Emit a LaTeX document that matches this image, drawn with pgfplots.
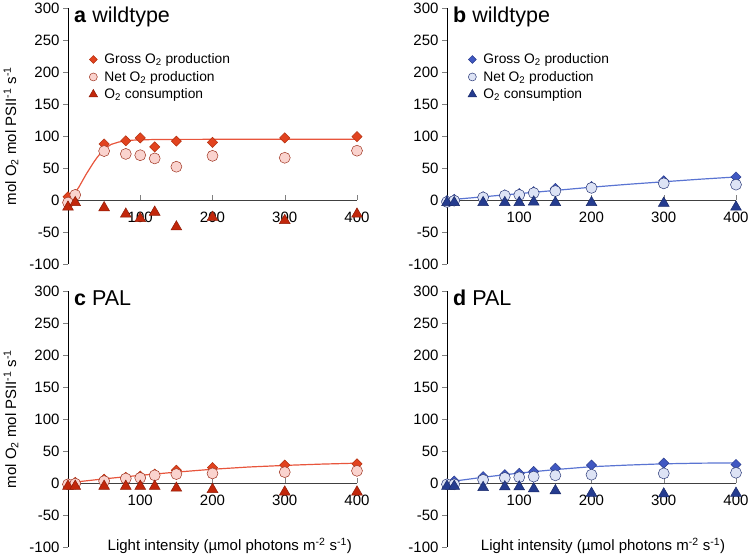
\documentclass[border=0pt]{standalone}
\usepackage{fontspec}
\setmainfont{Liberation Sans}
\usepackage{pgfplots}
\pgfplotsset{compat=1.18}

\definecolor{rline}{HTML}{E8553C}
\definecolor{rdia}{HTML}{E2431F}
\definecolor{rdiae}{HTML}{B3300F}
\definecolor{rcir}{HTML}{FAD3CE}
\definecolor{rcire}{HTML}{9E3320}
\definecolor{rtri}{HTML}{C2270B}
\definecolor{rtrie}{HTML}{8E1B06}
\definecolor{bline}{HTML}{5A74D2}
\definecolor{bdia}{HTML}{4058C2}
\definecolor{bdiae}{HTML}{2A3C8C}
\definecolor{bcir}{HTML}{DDE3F5}
\definecolor{bcire}{HTML}{2B3A78}
\definecolor{btri}{HTML}{253C8F}
\definecolor{btrie}{HTML}{1A2A6A}

\pgfplotsset{
  panel/.style={
    scale only axis, width=289pt, height=256pt,
    xmin=0, xmax=400, ymin=-100, ymax=300,
    axis x line=middle, axis y line=left,
    axis line style={-, line width=0.8pt},
    x axis line style={draw=black!75},
    xtick={100,200,300,400}, ytick={-100,-50,...,300},
    tick align=outside, major tick length=5pt,
    x tick style={yshift=5pt},
    tick label style={font=\fontsize{15}{15}\selectfont},
    xticklabel style={yshift=-3pt},
    /pgf/number format/assume math mode=true,
    clip=false,
    legend cell align=left,
    legend style={draw=none, fill=none, at={(rel axis cs:0.072,0.83)},
      anchor=north west, font=\fontsize{13.8}{16}\selectfont,
      row sep=2pt, inner sep=0pt},
  },
  gross/.style={only marks, mark=square*, mark size=3.6pt,
    mark options={rotate=45, fill=#1dia, draw=#1diae, line width=0.5pt},
    legend image code/.code={\path[draw=none, fill=none] (0cm,0cm) rectangle (0.42cm,0cm);
      \draw[mark=square*, mark size=2.8pt,
      mark options={rotate=45, fill=#1dia, draw=#1diae, line width=0.5pt}]
      plot coordinates {(0.1cm,0cm)};}},
  net/.style={only marks, mark=*, mark size=5.5pt,
    mark options={fill=#1cir, draw=#1cire, line width=0.5pt},
    legend image code/.code={\path[draw=none, fill=none] (0cm,0cm) rectangle (0.42cm,0cm);
      \draw[mark=*, mark size=4pt,
      mark options={fill=#1cir, draw=#1cire, line width=0.5pt}]
      plot coordinates {(0.1cm,0cm)};}},
  cons/.style={only marks, mark=triangle*, mark size=6.2pt,
    mark options={fill=#1tri, draw=#1trie, line width=0.5pt},
    legend image code/.code={\path[draw=none, fill=none] (0cm,0cm) rectangle (0.42cm,0cm);
      \draw[mark=triangle*, mark size=5pt,
      mark options={fill=#1tri, draw=#1trie, line width=0.5pt}]
      plot coordinates {(0.1cm,0cm)};}},
}

\newcommand{\ttl}[2]{\node[anchor=base west, inner sep=0pt,
  font=\fontsize{21.5}{21.5}\selectfont] at ([xshift=6pt,yshift=-14pt]rel axis cs:0,1)
  {\textbf{#1} #2};}

\begin{document}
\begin{tikzpicture}
\path[use as bounding box] (0,0) rectangle (750pt,-555pt);

% a wildtype
\begin{axis}[panel, at={(68pt,-264pt)}, anchor=south west]
\addplot[rline, line width=1.2pt, forget plot] coordinates {
 (0,0) (5,5) (10,12) (15,20) (20,30) (25,40) (30,49) (35,58) (40,66)
 (45,73) (50,79) (55,83.5) (60,87) (70,90.5) (80,92.5) (90,93.5) (100,94)
 (120,94.5) (150,94.7) (200,94.8) (300,94.8) (400,94.8)};
\addplot[gross=r] coordinates {(0,5) (10,8) (50,87.5) (80,92.5) (100,97)
 (120,83) (150,92) (200,90) (300,97) (400,99)};
\addlegendentry{Gross O\textsubscript{2} production}
\addplot[net=r] coordinates {(0,-4) (10,8) (50,76.5) (80,72) (100,70)
 (120,65) (150,52) (200,69) (300,66) (400,77)};
\addlegendentry{Net O\textsubscript{2} production}
\addplot[cons=r] coordinates {(0,-11) (10,-4) (50,-12) (80,-22) (100,-29)
 (120,-19) (150,-42) (200,-27) (300,-32) (400,-22)};
\addlegendentry{O\textsubscript{2} consumption}
\ttl{a}{wildtype}
\end{axis}

% b wildtype
\begin{axis}[panel, at={(447pt,-264pt)}, anchor=south west]
\addplot[bline, line width=1.2pt, forget plot] coordinates {
 (0,0) (10,1) (50,5) (100,10) (150,15) (200,20) (250,24.5) (300,28.5)
 (350,32.5) (400,36)};
\addplot[gross=b] coordinates {(0,-1) (10,1) (50,5) (80,8) (100,10)
 (120,13) (150,18) (200,21) (300,30) (400,36)};
\addlegendentry{Gross O\textsubscript{2} production}
\addplot[net=b] coordinates {(0,-3) (10,-1) (50,4) (80,7) (100,8)
 (120,11) (150,14) (200,19) (300,26) (400,24)};
\addlegendentry{Net O\textsubscript{2} production}
\addplot[cons=b] coordinates {(0,-4) (10,-4) (50,-4) (80,-4) (100,-4)
 (120,-3) (150,-4) (200,-4) (300,-5) (400,-11)};
\addlegendentry{O\textsubscript{2} consumption}
\ttl{b}{wildtype}
\end{axis}

% c PAL
\begin{axis}[panel, at={(68pt,-547pt)}, anchor=south west]
\addplot[rline, line width=1.2pt, forget plot] coordinates {
 (0,0) (10,1.5) (50,6.5) (100,12) (150,17) (200,21.5) (250,25)
 (300,27.5) (350,29.5) (400,31)};
\addplot[gross=r] coordinates {(0,-2) (10,1) (50,6) (80,9) (100,11)
 (120,14) (150,20) (200,24) (300,28) (400,30)};
\addplot[net=r] coordinates {(0,-2) (10,-1) (50,3) (80,7) (100,8)
 (120,12) (150,14) (200,15) (300,17) (400,19)};
\addplot[cons=r] coordinates {(0,-5) (10,-5) (50,-5) (80,-5) (100,-5)
 (120,-5) (150,-8) (200,-10) (300,-14) (400,-14)};
\ttl{c}{PAL}
\node[font=\fontsize{15}{15}\selectfont] at (axis cs:224,-98)
 {Light intensity (µmol photons m\textsuperscript{-2} s\textsuperscript{-1})};
\end{axis}

% d PAL
\begin{axis}[panel, at={(447pt,-547pt)}, anchor=south west]
\addplot[bline, line width=1.2pt, forget plot] coordinates {
 (0,0) (10,3) (50,9) (100,15.5) (150,21) (200,25.5) (250,28)
 (300,30) (350,31) (400,31.5)};
\addplot[gross=b] coordinates {(0,-2) (10,3) (50,10) (80,13) (100,15)
 (120,18) (150,23) (200,28) (300,31) (400,29)};
\addplot[net=b] coordinates {(0,-2) (10,-2) (50,5) (80,8) (100,9)
 (120,10) (150,12) (200,13) (300,15) (400,16)};
\addplot[cons=b] coordinates {(0,-5) (10,-5) (50,-7) (80,-6) (100,-6)
 (120,-9) (150,-12) (200,-16) (300,-17) (400,-16)};
\ttl{d}{PAL}
\node[font=\fontsize{15}{15}\selectfont] at (axis cs:216,-98)
 {Light intensity (µmol photons m\textsuperscript{-2} s\textsuperscript{-1})};
\end{axis}

\node[rotate=90, font=\fontsize{15}{15}\selectfont] at (11pt,-136pt)
 {mol O\textsubscript{2} mol PSII\textsuperscript{-1} s\textsuperscript{-1}};
\node[rotate=90, font=\fontsize{15}{15}\selectfont] at (11pt,-419pt)
 {mol O\textsubscript{2} mol PSII\textsuperscript{-1} s\textsuperscript{-1}};
\end{tikzpicture}
\end{document}
